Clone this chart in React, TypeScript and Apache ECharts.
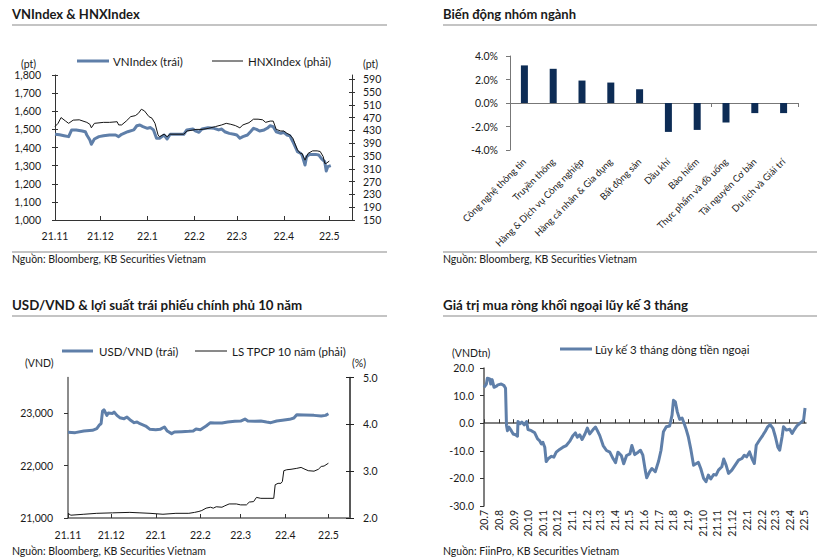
import React, { useEffect, useRef } from 'react';
import * as echarts from 'echarts';

const FONT = 'Lato, "Noto Sans", sans-serif';

// ---------- Chart 1: VNIndex & HNXIndex (x = days since 2021-11-01) ----------
const monthDays1 = [0, 30, 61, 92, 120, 151, 181];
const monthLabels1 = ['21.11', '21.12', '22.1', '22.2', '22.3', '22.4', '22.5'];
const vnIndex: [number, number][] = [
  [0, 1473], [3, 1470], [6, 1465], [9, 1460], [11, 1497], [14, 1497], [18, 1491], [20, 1487],
  [21, 1469], [23, 1441], [24, 1418], [26, 1447], [29, 1460], [32, 1465], [36, 1469], [40, 1469],
  [42, 1460], [44, 1473], [48, 1487], [52, 1497], [54, 1520], [56, 1524], [58, 1515], [61, 1506],
  [63, 1510], [65, 1497], [67, 1451], [69, 1451], [72, 1469], [74, 1447], [76, 1473], [80, 1473],
  [85, 1473], [87, 1497], [91, 1502], [93, 1490], [95, 1484], [97, 1502], [101, 1509], [105, 1506],
  [108, 1497], [110, 1502], [112, 1487], [115, 1478], [118, 1473], [120, 1469], [122, 1451], [124, 1460],
  [127, 1469], [129, 1487], [131, 1506], [133, 1500], [135, 1491], [138, 1497], [140, 1506], [142, 1520],
  [144, 1515], [146, 1487], [149, 1478], [151, 1484], [153, 1469], [155, 1465], [157, 1432], [160, 1377],
  [162, 1368], [163, 1359], [165, 1303], [166, 1349], [168, 1362], [172, 1362], [174, 1359], [176, 1337],
  [178, 1322], [179, 1270], [180, 1294], [182, 1300],
];
const hnxIndex: [number, number][] = [
  [0, 442], [2, 452], [4, 470], [7, 459], [9, 452], [12, 462], [16, 463], [21, 455], [23, 449],
  [24, 438], [26, 452], [32, 455], [36, 455], [41, 457], [42, 447], [44, 447], [47, 459], [50, 473],
  [53, 476], [55, 483], [57, 496], [59, 491], [62, 473], [64, 468], [66, 452], [68, 416], [69, 410],
  [72, 418], [74, 410], [76, 418], [85, 418], [87, 428], [91, 431], [93, 433], [97, 433], [101, 436],
  [106, 442], [110, 447], [113, 452], [116, 449], [119, 445], [122, 438], [124, 447], [128, 454],
  [131, 465], [134, 465], [137, 463], [139, 455], [142, 459], [144, 459], [146, 433], [149, 428],
  [151, 428], [153, 421], [155, 416], [157, 405], [160, 369], [162, 358], [163, 358], [165, 337],
  [167, 358], [170, 366], [173, 366], [175, 364], [177, 348], [178, 327], [179, 327], [181, 334],
];
const hnxTicks = [150, 190, 230, 270, 310, 350, 390, 430, 470, 510, 550, 590];

// ---------- Chart 2: sector performance ----------
const sectors = [
  'Công nghệ thông tin', 'Truyền thông', 'Hàng & Dịch vụ Công nghiệp', 'Hàng cá nhân & Gia dụng',
  'Bất động sản', 'Dầu khí', 'Bảo hiểm', 'Thực phẩm và đồ uống', 'Tài nguyên Cơ bản', 'Du lịch và Giải trí',
];
const sectorChange = [3.2, 2.91, 1.91, 1.74, 1.17, -2.46, -2.29, -1.66, -0.86, -0.86];

// ---------- Chart 3: USD/VND & 10Y bond yield (x = days since 2021-11-01) ----------
const usdTicks = [21000, 22000, 23000];
const usdVnd: [number, number][] = [
  [0, 22638], [5, 22632], [11, 22663], [17, 22676], [20, 22708], [22, 22784], [23, 22803], [24, 23044],
  [25, 23070], [27, 22962], [28, 23006], [31, 23000], [32, 23025], [34, 22962], [36, 22918], [39, 22899],
  [41, 22930], [43, 22880], [46, 22823], [48, 22835], [50, 22803], [54, 22758], [57, 22695], [61, 22689],
  [64, 22695], [67, 22740], [69, 22663], [72, 22613], [74, 22645], [79, 22651], [84, 22657], [87, 22663],
  [89, 22701], [92, 22689], [96, 22758], [99, 22823], [102, 22816], [107, 22816], [111, 22835], [116, 22848],
  [120, 22854], [123, 22892], [125, 22854], [130, 22848], [134, 22854], [138, 22835], [141, 22823],
  [145, 22854], [149, 22867], [154, 22886], [157, 22911], [159, 22975], [164, 22969], [171, 22962],
  [176, 22950], [179, 22962], [181, 22994],
];
const bondYield: [number, number][] = [
  [0, 2.1], [2, 2.06], [11, 2.08], [20, 2.1], [31, 2.11], [43, 2.12], [50, 2.11], [57, 2.1], [66, 2.08],
  [75, 2.1], [84, 2.1], [88, 2.12], [91, 2.14], [93, 2.16], [96, 2.21], [99, 2.23], [101, 2.21], [103, 2.24],
  [107, 2.23], [109, 2.26], [112, 2.3], [117, 2.3], [120, 2.28], [124, 2.28], [126, 2.34], [129, 2.35],
  [131, 2.44], [134, 2.42], [139, 2.42], [143, 2.42], [144, 2.71], [146, 2.74], [148, 2.74], [149, 2.78],
  [150, 3.01], [152, 3.03], [155, 3.04], [159, 3.06], [162, 3.08], [164, 3.05], [167, 3.01], [171, 3.0],
  [174, 3.04], [176, 3.1], [178, 3.11], [181, 3.17],
];

// ---------- Chart 4: foreign net buying, 3M cumulative (x = days since 2020-07-01) ----------
const monthDays4 = [0, 31, 62, 92, 123, 153, 184, 215, 243, 274, 304, 335, 365, 396, 427, 457, 488, 518, 549, 580, 608, 639, 669];
const monthLabels4 = ['20.7', '20.8', '20.9', '20.10', '20.11', '20.12', '21.1', '21.2', '21.3', '21.4', '21.5', '21.6',
  '21.7', '21.8', '21.9', '21.10', '21.11', '21.12', '22.1', '22.2', '22.3', '22.4', '22.5'];
const foreignFlow: [number, number][] = [
  [0, 13.0], [5, 14.2], [7, 16.3], [12, 16.0], [14, 14.2], [17, 15.8], [21, 13.0], [26, 13.4], [29, 13.9],
  [36, 14.2], [42, 13.6], [45, 12.7], [47, -0.8], [49, -2.7], [52, -1.4], [57, -2.7], [61, -3.9], [66, -4.2],
  [70, -4.7], [71, 0.6], [75, -0.2], [79, 0.4], [84, -0.6], [89, 0.6], [92, -2.3], [99, -2.7], [106, -3.5],
  [112, -5.7], [116, -6.3], [120, -7.5], [123, -6.9], [127, -8.7], [130, -13.9], [134, -12.9], [141, -12.0],
  [146, -12.3], [151, -10.5], [158, -9.5], [165, -8.7], [172, -8.1], [179, -6.6], [186, -4.5], [191, -3.5],
  [195, -5.1], [200, -4.2], [205, -5.9], [211, -3.9], [216, -1.8], [221, -3.9], [228, -2.3], [233, -1.4],
  [237, -2.7], [242, -4.5], [249, -8.1], [256, -9.9], [263, -10.5], [270, -12.9], [275, -14.3], [280, -10.5],
  [287, -11.7], [292, -14.7], [298, -11.7], [305, -11.1], [309, -8.1], [315, -11.4], [322, -10.5], [327, -9.8],
  [332, -11.6], [337, -17.0], [340, -19.8], [346, -17.6], [351, -16.4], [358, -17.6], [365, -13.7], [370, -9.8],
  [375, -3.1], [381, -1.3], [388, -1.0], [393, 2.9], [396, 8.3], [400, 7.7], [404, 4.1], [409, 1.4], [414, 1.9],
  [417, 0.5], [423, -2.5], [427, -4.9], [432, -9.2], [438, -15.2], [444, -14.6], [448, -14.2], [453, -16.4],
  [459, -20.0], [464, -21.2], [469, -18.8], [474, -20.2], [480, -18.6], [485, -18.8], [490, -17.0], [497, -15.8],
  [501, -13.0], [506, -15.2], [511, -18.2], [518, -17.0], [525, -15.2], [532, -13.4], [539, -12.8], [544, -11.6],
  [549, -12.2], [555, -10.4], [560, -12.8], [565, -14.6], [569, -8.0], [576, -6.1], [583, -4.3], [588, -2.9],
  [593, -1.3], [598, -0.5], [604, -1.9], [609, -4.9], [614, -8.6], [618, -9.8], [623, -4.9], [626, -1.3],
  [632, -2.5], [639, -2.2], [644, -3.7], [648, -2.5], [654, -1.0], [660, -0.1], [664, 0.5], [668, 1.1], [671, 5.5],
];

const BLUE = '#5f7fa9';
const DARK = '#141414';
const NAVY = '#0d2c55';
const TEXT = '#1a1a1a';

const lbl = (extra: any = {}) => ({ fontFamily: FONT, fontSize: 10.5, color: TEXT, ...extra });
const fmtComma = (v: number) => v.toLocaleString('en-US');

function buildOption() {
  const m1 = (v: number) => monthLabels1[monthDays1.indexOf(v)] ?? '';
  const m4 = (v: number) => monthLabels4[monthDays4.indexOf(v)] ?? '';
  const axLine = (color: string, width = 1) => ({ show: true, onZero: false, lineStyle: { color, width } });

  const t = (x: number, y: number, text: string, size: number, weight = 'normal', align = 'left') => ({
    type: 'text', x, y, silent: true,
    style: { text, fontFamily: FONT, fontSize: size, fontWeight: weight, fill: TEXT, align, verticalAlign: 'middle' },
  });
  const rule = (x: number, y: number, w: number) => ({
    type: 'rect', silent: true, shape: { x, y, width: w, height: 2 }, style: { fill: '#c4c4c4' },
  });
  const seg = (x1: number, x2: number, y: number, color: string, w: number) => ({
    type: 'line', silent: true, shape: { x1, y1: y, x2, y2: y }, style: { stroke: color, lineWidth: w },
  });

  return {
    animation: false,
    backgroundColor: '#ffffff',
    textStyle: { fontFamily: FONT },
    grid: [
      { left: 55, top: 75, width: 297, height: 145, outerBoundsMode: 'none' },
      { left: 510, top: 56, width: 288, height: 94, outerBoundsMode: 'none' },
      { left: 68, top: 377.5, width: 282, height: 140.5, outerBoundsMode: 'none' },
      { left: 484, top: 368, width: 322, height: 138, outerBoundsMode: 'none' },
    ],
    xAxis: [
      {
        type: 'value', gridIndex: 0, min: 0, max: 196, position: 'bottom',
        axisLine: axLine('#333'),
        axisTick: { show: true, inside: true, length: 4, customValues: monthDays1, lineStyle: { color: '#333' } },
        axisLabel: lbl({ customValues: monthDays1, formatter: m1, margin: 10 }),
        splitLine: { show: false },
      },
      {
        type: 'category', gridIndex: 1, data: sectors, position: 'bottom',
        axisLine: { show: true, onZero: true, lineStyle: { color: '#777', width: 1 } },
        axisTick: { show: true, inside: false, length: 4, lineStyle: { color: '#777' } },
        axisLabel: { show: false },
      },
      {
        type: 'category', gridIndex: 1, data: sectors, position: 'bottom',
        axisLine: { show: false, onZero: false },
        axisTick: { show: false },
        axisLabel: lbl({ fontSize: 9.5, rotate: 45, interval: 0, margin: 10 }),
      },
      {
        type: 'value', gridIndex: 2, min: 0, max: 196, position: 'bottom',
        axisLine: axLine('#666', 1.5),
        axisTick: { show: true, inside: true, length: 4, customValues: monthDays1, lineStyle: { color: '#333' } },
        axisLabel: lbl({ customValues: monthDays1, formatter: m1, margin: 11 }),
        splitLine: { show: false },
      },
      {
        type: 'value', gridIndex: 3, min: 0, max: 673, position: 'bottom',
        axisLine: { show: true, onZero: true, lineStyle: { color: '#555', width: 1.5 } },
        axisTick: { show: true, inside: true, length: 4, customValues: monthDays4, lineStyle: { color: '#333' } },
        axisLabel: { show: false },
        splitLine: { show: false },
      },
      {
        type: 'value', gridIndex: 3, min: 0, max: 673, position: 'bottom',
        axisLine: { show: false, onZero: false },
        axisTick: { show: false },
        axisLabel: lbl({ customValues: monthDays4, formatter: m4, rotate: 90, margin: 4 }),
        splitLine: { show: false },
      },
    ],
    yAxis: [
      {
        type: 'value', gridIndex: 0, position: 'left', min: 1000, max: 1800, interval: 100,
        axisLine: axLine('#333'),
        axisTick: { show: true, inside: false, length: 3, lineStyle: { color: '#333' } },
        axisLabel: lbl({ formatter: fmtComma, margin: 14 }),
        splitLine: { show: false },
      },
      {
        type: 'value', gridIndex: 0, position: 'right', min: 150, max: 603,
        axisLine: axLine('#333'),
        axisTick: { show: true, inside: false, length: 3, customValues: hnxTicks, lineStyle: { color: '#333' } },
        axisLabel: lbl({ customValues: hnxTicks, margin: 11 }),
        splitLine: { show: false },
      },
      {
        type: 'value', gridIndex: 0, position: 'left', min: 1000, max: 1800, interval: 100,
        axisLine: { show: false, onZero: false },
        axisTick: { show: true, inside: true, length: 3, lineStyle: { color: '#333' } },
        axisLabel: { show: false }, splitLine: { show: false },
      },
      {
        type: 'value', gridIndex: 0, position: 'right', min: 150, max: 603,
        axisLine: { show: false, onZero: false },
        axisTick: { show: true, inside: true, length: 3, customValues: hnxTicks, lineStyle: { color: '#333' } },
        axisLabel: { show: false, customValues: hnxTicks }, splitLine: { show: false },
      },
      {
        type: 'value', gridIndex: 1, position: 'left', min: -4, max: 4, interval: 2,
        axisLine: axLine('#777'),
        axisTick: { show: true, inside: false, length: 4, lineStyle: { color: '#777' } },
        axisLabel: lbl({ formatter: (v: number) => v.toFixed(1) + '%', margin: 12 }),
        splitLine: { show: false },
      },
      {
        type: 'value', gridIndex: 2, position: 'left', min: 21000, max: 23686,
        axisLine: axLine('#666', 1.5),
        axisTick: { show: true, inside: false, length: 4, customValues: usdTicks, lineStyle: { color: '#333' } },
        axisLabel: lbl({ customValues: usdTicks, formatter: fmtComma, margin: 15 }),
        splitLine: { show: false },
      },
      {
        type: 'value', gridIndex: 2, position: 'right', min: 2, max: 5, interval: 1,
        axisLine: axLine('#222', 1.5),
        axisTick: { show: true, inside: false, length: 4, lineStyle: { color: '#222' } },
        axisLabel: lbl({ formatter: (v: number) => v.toFixed(1), margin: 13 }),
        splitLine: { show: false },
      },
      {
        type: 'value', gridIndex: 2, position: 'right', min: 2, max: 5, interval: 1,
        axisLine: { show: false, onZero: false },
        axisTick: { show: true, inside: true, length: 4, lineStyle: { color: '#222' } },
        axisLabel: { show: false }, splitLine: { show: false },
      },
      {
        type: 'value', gridIndex: 3, position: 'left', min: -30, max: 20, interval: 10,
        axisLine: axLine('#555', 1.5),
        axisTick: { show: true, inside: false, length: 4, lineStyle: { color: '#333' } },
        axisLabel: lbl({ formatter: (v: number) => v.toFixed(1), margin: 10 }),
        splitLine: { show: false },
      },
    ],
    series: [
      {
        name: 'VNIndex (trái)', type: 'line', xAxisIndex: 0, yAxisIndex: 0, data: vnIndex,
        showSymbol: false, symbol: 'none', lineStyle: { color: BLUE, width: 3, join: 'round' }, itemStyle: { color: BLUE },
      },
      {
        name: 'HNXIndex (phải)', type: 'line', xAxisIndex: 0, yAxisIndex: 1, data: hnxIndex,
        showSymbol: false, symbol: 'none', lineStyle: { color: DARK, width: 1 }, itemStyle: { color: DARK },
      },
      {
        name: 'Biến động', type: 'bar', xAxisIndex: 1, yAxisIndex: 4, data: sectorChange,
        barWidth: 7, itemStyle: { color: NAVY },
      },
      {
        name: 'USD/VND (trái)', type: 'line', xAxisIndex: 3, yAxisIndex: 5, data: usdVnd,
        showSymbol: false, symbol: 'none', lineStyle: { color: BLUE, width: 3, join: 'round' }, itemStyle: { color: BLUE },
      },
      {
        name: 'LS TPCP 10 năm (phải)', type: 'line', xAxisIndex: 3, yAxisIndex: 6, data: bondYield,
        showSymbol: false, symbol: 'none', lineStyle: { color: DARK, width: 1 }, itemStyle: { color: DARK },
      },
      {
        name: 'Lũy kế 3 tháng dòng tiền ngoại', type: 'line', xAxisIndex: 4, yAxisIndex: 8, data: foreignFlow,
        showSymbol: false, symbol: 'none', lineStyle: { color: BLUE, width: 3, join: 'round' }, itemStyle: { color: BLUE },
      },
    ],
    graphic: [
      // Panel 1
      t(12, 14, 'VNIndex & HNXIndex', 13, 'bold'),
      rule(12, 24, 375),
      seg(77, 109, 61, BLUE, 3), t(113, 61, 'VNIndex (trái)', 11.5),
      seg(212, 243, 61, DARK, 1), t(248, 61, 'HNXIndex (phải)', 11.5),
      t(21, 64, '(pt)', 10.5), t(363, 64, '(pt)', 10.5),
      rule(12, 251, 375),
      t(12, 259, 'Nguồn: Bloomberg, KB Securities Vietnam', 10.5),
      // Panel 2
      t(443, 14, 'Biến động nhóm ngành', 13, 'bold'),
      rule(443, 24, 374),
      rule(443, 251, 374),
      t(443, 259, 'Nguồn: Bloomberg, KB Securities Vietnam', 10.5),
      // Panel 3
      t(12, 305, 'USD/VND & lợi suất trái phiếu chính phủ 10 năm', 13.3, 'bold'),
      rule(12, 315, 375),
      seg(62, 93, 351, BLUE, 3), t(99, 351, 'USD/VND (trái)', 11.5),
      seg(195, 227, 351, DARK, 1), t(232, 351, 'LS TPCP 10 năm (phải)', 11.5),
      t(25, 363, '(VND)', 10.5), t(352, 363, '(%)', 10.5),
      t(12, 551, 'Nguồn: Bloomberg, KB Securities Vietnam', 10.5),
      // Panel 4
      t(443, 305, 'Giá trị mua ròng khối ngoại lũy kế 3 tháng', 13.3, 'bold'),
      rule(443, 315, 374),
      seg(560, 592, 349, BLUE, 3), t(595, 349, 'Lũy kế 3 tháng dòng tiền ngoại', 11.5),
      t(452, 353, '(VNDtn)', 10.5),
      t(443, 551, 'Nguồn: FiinPro, KB Securities Vietnam', 10.5),
    ],
  };
}

export default function App() {
  const ref = useRef<HTMLDivElement>(null);
  useEffect(() => {
    if (!ref.current) return;
    const chart = echarts.init(ref.current, undefined, { renderer: 'svg' });
    chart.setOption(buildOption() as any);
    return () => chart.dispose();
  }, []);
  return (
    <div
      ref={ref}
      style={{ position: 'absolute', left: 0, top: 0, width: 821, height: 560, background: '#fff' }}
    />
  );
}
